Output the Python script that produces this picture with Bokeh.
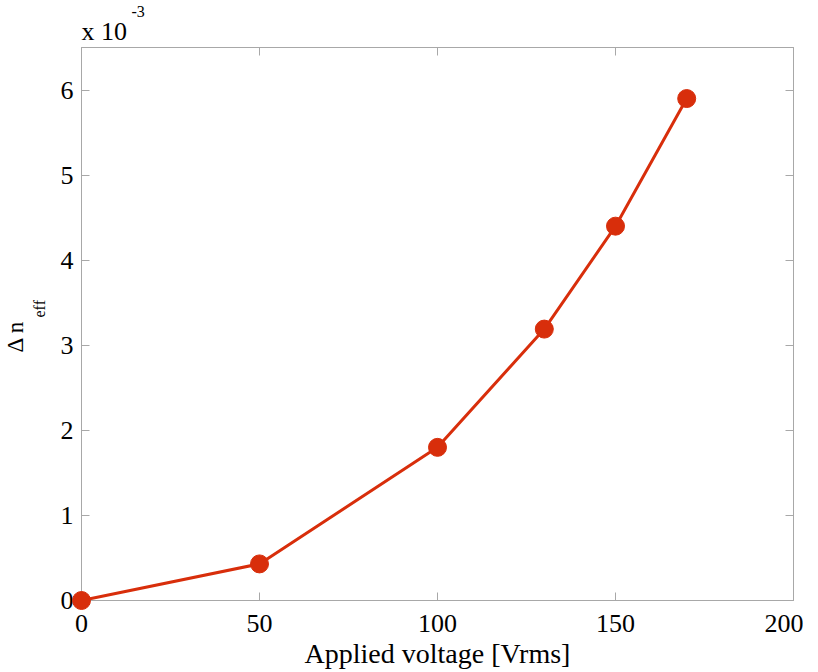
from bokeh.plotting import figure
from bokeh.models import LinearAxis, Title, Range1d, FixedTicker
from bokeh.embed import file_html
from bokeh.resources import INLINE

# Data (delta n_eff in units of 1e-3)
voltage = [0, 50, 100, 130, 150, 170]
delta_neff = [0.0, 0.43, 1.80, 3.19, 4.40, 5.90]
x_ticks = [0, 50, 100, 150, 200]
y_ticks = [0, 1, 2, 3, 4, 5, 6]

FONT = "Liberation Serif"
RED = "#d82e0b"
AXC = "#a8a8a8"
FS = "26px"

p = figure(frame_width=712, frame_height=553,
           x_range=Range1d(0, 200), y_range=Range1d(0, 6.5),
           output_backend="svg", toolbar_location=None,
           min_border_left=81, min_border_top=47, min_border_right=10,
           min_border_bottom=5)

p.grid.visible = False
p.outline_line_color = AXC
p.background_fill_color = "white"
p.border_fill_color = "white"

def style_axis(ax, labels=True):
    ax.axis_line_color = AXC
    ax.major_tick_line_color = AXC
    ax.major_tick_in = 8
    ax.major_tick_out = 0
    ax.minor_tick_line_color = None
    ax.major_label_text_font = FONT
    ax.major_label_text_font_size = FS
    ax.major_label_text_color = "black"
    if not labels:
        ax.major_label_text_alpha = 0
        ax.major_label_text_font_size = "1px"
        ax.major_label_standoff = 0

p.xaxis.ticker = FixedTicker(ticks=x_ticks)
p.yaxis.ticker = FixedTicker(ticks=y_ticks)
style_axis(p.xaxis[0])
style_axis(p.yaxis[0])
p.xaxis.major_label_standoff = 14
p.yaxis.major_label_standoff = 8
p.xaxis.axis_label = "Applied voltage [Vrms]"
p.xaxis.axis_label_text_font = FONT
p.xaxis.axis_label_text_font_size = "28px"
p.xaxis.axis_label_text_font_style = "normal"
p.xaxis.axis_label_text_color = "black"
p.xaxis.axis_label_standoff = 3

ra = LinearAxis(ticker=FixedTicker(ticks=y_ticks))
style_axis(ra, labels=False)
p.add_layout(ra, "right")
ta = LinearAxis(ticker=FixedTicker(ticks=x_ticks))
style_axis(ta, labels=False)
p.add_layout(ta, "above")

p.line(voltage, delta_neff, line_color=RED, line_width=3)
p.scatter(voltage, delta_neff, size=18, fill_color=RED, line_color=RED, level="overlay")

# exponent label "x 10^-3" (stacked titles above the frame)
p.add_layout(Title(text="x 10", align="left", offset=0, standoff=4,
                   text_font=FONT, text_font_size=FS, text_font_style="normal",
                   text_color="black"), "above")
p.add_layout(Title(text="-3", align="left", offset=50, standoff=-8,
                   text_font=FONT, text_font_size="16px", text_font_style="normal",
                   text_color="black"), "above")

# y axis label "Δ n_eff" (stacked titles left of the axis)
p.add_layout(Title(text="eff", align="left", offset=283, standoff=20,
                   text_font=FONT, text_font_size="16px", text_font_style="normal",
                   text_color="black"), "left")
p.add_layout(Title(text="\u0394 n", align="left", offset=248, standoff=-18,
                   text_font=FONT, text_font_size="23px", text_font_style="normal",
                   text_color="black"), "left")

open("out.html", "w").write(file_html(p, INLINE))
